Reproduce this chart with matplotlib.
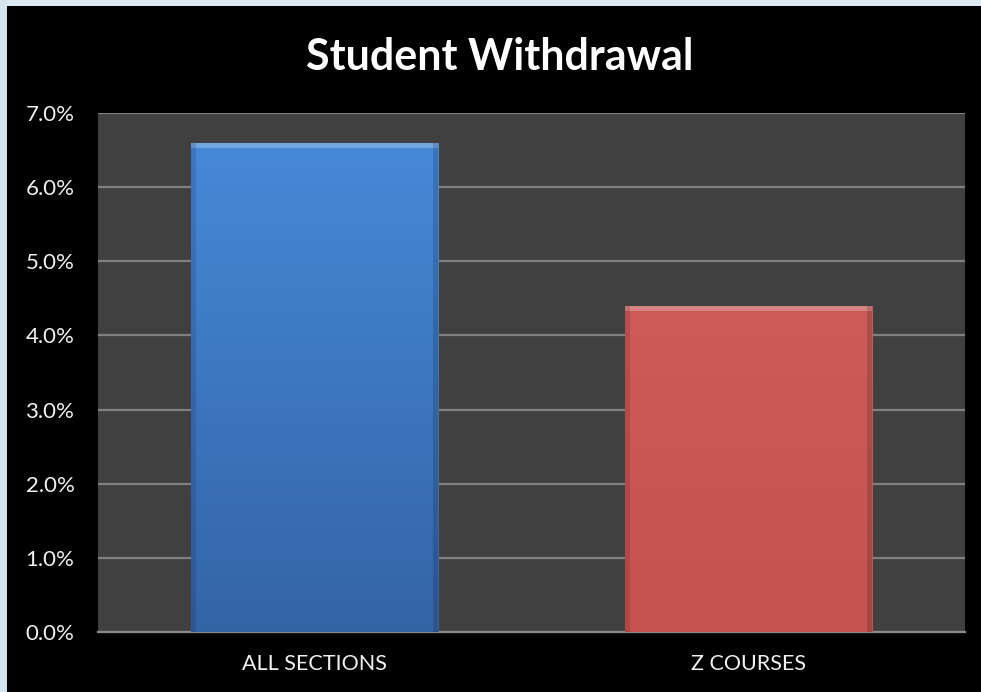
import matplotlib
matplotlib.use("Agg")
import matplotlib.pyplot as plt
import numpy as np
from matplotlib.patches import Rectangle
from matplotlib.colors import LinearSegmentedColormap
from matplotlib.ticker import FuncFormatter

# data
categories = ["ALL SECTIONS", "Z COURSES"]
withdrawal_pct = [6.6, 4.4]
bar_top_colors = ["#4689d8", "#cd5c58"]
bar_bottom_colors = ["#3464a6", "#c4524e"]
title = "Student Withdrawal"

plt.rcParams['font.family'] = ['Lato', 'DejaVu Sans']

fig = plt.figure(figsize=(9.81, 6.92), dpi=100, facecolor="black")

# light blue slide border on top and left
fig.patches.append(Rectangle((0, 1 - 6 / 692), 1, 6 / 692, transform=fig.transFigure,
                             facecolor="#dceaf2", edgecolor="none", zorder=0))
fig.patches.append(Rectangle((0, 0), 7 / 981, 1, transform=fig.transFigure,
                             facecolor="#d3e5ef", edgecolor="none", zorder=0))

ax = fig.add_axes([98 / 981, 60 / 692, 867 / 981, 519 / 692])
ax.set_facecolor("#404040")

x = np.arange(len(categories))
width = 0.57
bars = ax.bar(x, withdrawal_pct, width=width, color="none", edgecolor="none", zorder=3)

# vertical gradient fill for each bar, plus a light bevel strip at the top
for bar, top_c, bot_c in zip(bars, bar_top_colors, bar_bottom_colors):
    x0, y0 = bar.get_x(), bar.get_y()
    w, h = bar.get_width(), bar.get_height()
    cmap = LinearSegmentedColormap.from_list("g", [bot_c, top_c])
    grad = np.linspace(0, 1, 256).reshape(-1, 1)
    im = ax.imshow(grad, cmap=cmap, aspect="auto", origin="lower",
                   extent=(x0, x0 + w, y0, y0 + h), zorder=3)
    clip = Rectangle((x0, y0), w, h, transform=ax.transData, facecolor="none")
    ax.add_patch(clip)
    im.set_clip_path(clip)
    ax.add_patch(Rectangle((x0, y0 + h - 0.07), w, 0.07, facecolor="white",
                           alpha=0.25, edgecolor="none", zorder=4))
    ax.add_patch(Rectangle((x0, y0), 0.012, h, facecolor="black",
                           alpha=0.12, edgecolor="none", zorder=4))
    ax.add_patch(Rectangle((x0 + w - 0.012, y0), 0.012, h, facecolor="black",
                           alpha=0.15, edgecolor="none", zorder=4))

ax.set_xlim(-0.5, len(categories) - 0.5)
ax.set_ylim(0, 7)
ax.set_yticks(np.arange(0, 8, 1))
ax.yaxis.set_major_formatter(FuncFormatter(lambda v, p: f"{v:.1f}%"))
ax.set_xticks(x)
ax.set_xticklabels(categories)

ax.grid(axis="y", color="#808080", linewidth=1.6, zorder=1)
ax.set_axisbelow(True)
ax.tick_params(axis="both", length=0, colors="#f0f0f0")
ax.tick_params(axis="y", labelsize=16, pad=17)
ax.tick_params(axis="x", labelsize=15.5, pad=16)

for side in ["top", "right", "left"]:
    ax.spines[side].set_visible(False)
ax.spines["bottom"].set_color("#8a8a8a")
ax.spines["bottom"].set_linewidth(1.6)

fig.text(0.509, 0.918, title, ha="center", va="center", color="white",
         fontsize=31, fontweight="bold")

fig.savefig("out.png", dpi=100, facecolor=fig.get_facecolor())
